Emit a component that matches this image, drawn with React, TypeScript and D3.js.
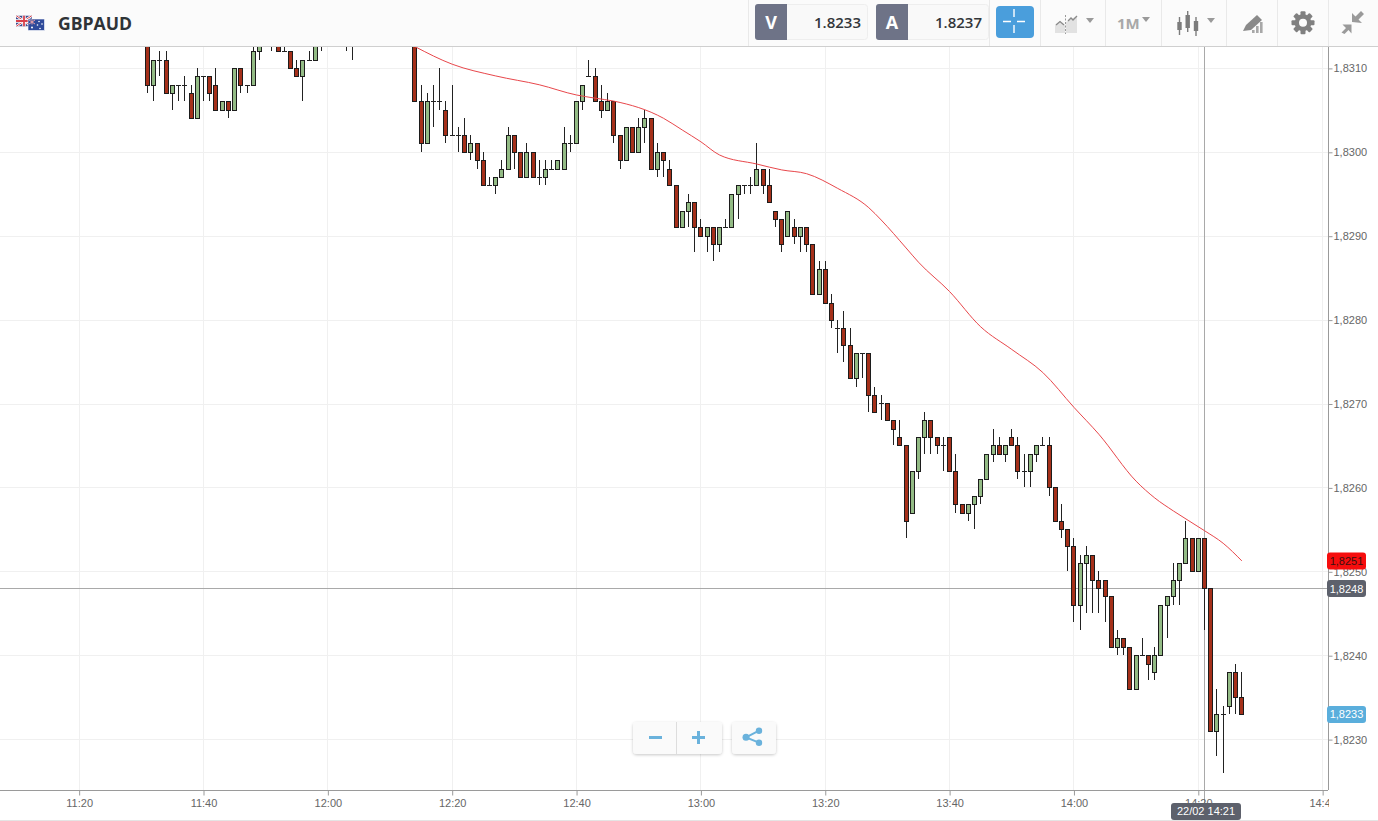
import { useEffect, useRef } from 'react';
import * as d3 from 'd3';

const SYMBOL = 'GBPAUD';
const BID = '1.8233';
const ASK = '1.8237';

// all prices are pips above/below 1.8300, one candle per minute from 11:31
const PRICE_BASE = 1.83;
const FIRST_CANDLE = '11:31';

const opens = [
  14, 8, 11, 11, 7, 8, 8, 7, 4, 9,
  9, 8, 5, 6, 5, 10, 8, 8, 12, 14,
  14, 14, 12, 12, 10, 9, 11, 11, 14, 14,
  14, 14, 14, 14, 14, 14, 14, 14, 14, 14,
  14, 14, 14, 14, 6, 1, 6, 6, 5, 2,
  2, 2, 0, 1, -1, -4, -4, -3, -2, 2,
  0, -3, 0, -3, -3, -2, -2, -2, 1, 1,
  6, 9, 9, 6, 5, 6, 2, -1, 3, 0,
  3, 4, -2, 0, -2, -4, -9, -7, -6, -9,
  -10, -9, -11, -9, -9, -5, -4, -4, -4, -2,
  -4, -7, -8, -10, -9, -10, -9, -11, -17, -14,
  -18, -21, -21, -23, -27, -24, -24, -29, -30, -30,
  -32, -34, -35, -43, -38, -34, -32, -34, -35, -34,
  -38, -42, -43, -42, -41, -39, -36, -35, -36, -34,
  -35, -38, -38, -36, -35, -35, -40, -44, -45, -47,
  -54, -49, -48, -51, -51, -53, -59, -58, -59, -64,
  -60, -60, -62, -60, -54, -53, -51, -49, -46, -50,
  -46, -52, -69, -67, -66, -62, -65,
];
const highs = [
  15, 11, 12, 12, 8, 8, 9, 8, 10, 9,
  9, 10, 6, 6, 10, 10, 8, 13, 14, 15,
  15, 14, 13, 12, 11, 11, 12, 15, 15, 15,
  15, 15, 15, 15, 15, 15, 15, 15, 15, 15,
  15, 15, 15, 15, 8, 7, 8, 10, 6, 8,
  3, 4, 2, 1, 0, -3, -3, -1, 3, 2,
  0, 1, 0, -1, -1, -1, -1, 3, 2, 6,
  8, 11, 10, 8, 7, 6, 2, 3, 3, 4,
  5, 4, 1, 0, -1, -4, -7, -5, -6, -8,
  -9, -9, -9, -8, -5, -4, -4, -3, 1, -2,
  -2, -7, -8, -7, -8, -9, -9, -11, -13, -13,
  -17, -20, -19, -21, -24, -24, -24, -28, -29, -30,
  -32, -32, -35, -38, -34, -31, -32, -34, -34, -34,
  -36, -42, -42, -41, -39, -36, -33, -34, -35, -33,
  -34, -36, -36, -35, -34, -34, -40, -42, -45, -46,
  -48, -47, -48, -50, -51, -53, -57, -58, -59, -60,
  -58, -60, -59, -54, -53, -49, -49, -44, -46, -46,
  -46, -52, -64, -66, -62, -61, -62,
];
const lows = [
  7, 6, 9, 7, 5, 6, 6, 4, 4, 6,
  6, 5, 5, 4, 5, 7, 7, 8, 11, 13,
  12, 12, 12, 10, 9, 6, 11, 11, 12, 13,
  13, 13, 12, 11, 13, 13, 13, 13, 13, 13,
  13, 13, 13, 6, 0, 1, 3, 5, 1, 2,
  0, 0, -1, -2, -4, -4, -5, -3, -2, -2,
  -3, -3, -3, -4, -4, -2, -2, -2, 0, 1,
  5, 9, 6, 4, 5, 1, -2, -1, 0, 0,
  1, -2, -3, -3, -4, -9, -9, -9, -12, -10,
  -12, -13, -12, -9, -9, -8, -5, -5, -4, -5,
  -6, -9, -12, -10, -11, -12, -12, -17, -17, -18,
  -21, -24, -25, -27, -28, -27, -31, -31, -32, -32,
  -35, -35, -46, -43, -39, -36, -36, -36, -38, -38,
  -43, -43, -44, -45, -42, -39, -37, -36, -37, -35,
  -39, -40, -40, -37, -35, -41, -44, -46, -50, -56,
  -57, -55, -55, -55, -56, -59, -60, -60, -64, -64,
  -60, -63, -63, -60, -58, -54, -54, -49, -50, -50,
  -57, -69, -72, -74, -67, -67, -67,
];
const closes = [
  8, 11, 11, 7, 8, 8, 8, 4, 9, 9,
  7, 5, 6, 5, 10, 8, 8, 12, 14, 14,
  14, 12, 12, 10, 9, 11, 11, 14, 14, 14,
  14, 14, 14, 14, 14, 14, 14, 14, 14, 14,
  14, 14, 14, 6, 1, 6, 6, 6, 2, 2,
  2, 0, 1, -1, -4, -4, -3, -2, 2, 0,
  -3, 0, -3, -3, -2, -2, -1, 1, 1, 6,
  8, 9, 6, 5, 6, 2, -1, 3, 0, 3,
  4, -2, 0, -1, -4, -9, -7, -6, -9, -10,
  -9, -11, -9, -9, -5, -4, -4, -4, -2, -4,
  -6, -8, -11, -7, -10, -9, -11, -17, -14, -18,
  -20, -21, -23, -27, -24, -24, -29, -31, -30, -32,
  -33, -35, -44, -38, -34, -32, -34, -35, -35, -38,
  -42, -43, -42, -41, -39, -36, -35, -36, -35, -35,
  -38, -38, -36, -35, -35, -40, -44, -45, -47, -54,
  -49, -48, -51, -52, -53, -59, -58, -59, -64, -60,
  -60, -61, -60, -54, -53, -51, -49, -46, -50, -46,
  -52, -69, -67, -67, -62, -65, -67,
];

const maCandles = [43, 49, 56, 63, 69, 72, 75, 83, 86, 89, 92, 98, 102, 106, 111, 116, 118, 122, 124, 129, 134, 139, 144, 149, 153, 159, 162, 165, 170, 173, 176];
const maValues = [12.6, 10.5, 9.1, 8.05, 6.83, 6.45, 6.1, 4.05, 2.66, 1.25, -0.32, -1.4, -2.1, -2.55, -4.3, -6.6, -8.07, -11.4, -13.1, -16.6, -20.8, -23.5, -26.25, -30.4, -33.6, -39.2, -41.2, -42.75, -45.1, -46.6, -48.7];

const xTickLabels = ['11:20', '11:40', '12:00', '12:20', '12:40', '13:00', '13:20', '13:40', '14:00', '14:20', '14:40'];
const yTickValues = [1.823, 1.824, 1.825, 1.826, 1.827, 1.828, 1.829, 1.83, 1.831];

const CROSS_PRICE = 1.8248;
const CROSS_TIME = '14:21';
const CROSS_LABEL = '22/02 14:21';

const FONT = '"Liberation Sans", Arial, sans-serif';
const UI_FONT = '"Open Sans", sans-serif';
const RED = '#a5301a';
const GREEN = '#93bb85';
const INK = '#1c1c1c';
const LABEL_SIZE = 11;

const priceText = (p: number) => p.toFixed(4).replace('.', ',');
const toPrice = (pips: number) => PRICE_BASE + pips / 10000;

function drawChart(svg: SVGGElement) {
  const root = d3.select(svg);
  root.selectAll('*').remove();

  const parse = d3.timeParse('%H:%M');
  const xTicks = xTickLabels.map((s) => parse(s) as Date);
  const x = d3.scaleTime().domain([xTicks[0], xTicks[xTicks.length - 1]]).range([79.15, 1322.65]);
  const y = d3.scaleLinear().domain([1.823, 1.831]).range([739.6, 68.4]);
  const first = parse(FIRST_CANDLE) as Date;
  const candleX = (i: number) => x(d3.timeMinute.offset(first, i));
  const sharp = (v: number) => Math.floor(v) + 0.5;

  const chartRight = 1328;
  const chartTop = 47;
  const chartBottom = 790;

  const defs = root.append('defs');
  defs.append('clipPath').attr('id', 'plot').append('rect')
    .attr('x', 0).attr('y', chartTop).attr('width', chartRight).attr('height', chartBottom - chartTop);
  defs.append('clipPath').attr('id', 'xaxis').append('rect')
    .attr('x', 0).attr('y', chartBottom).attr('width', chartRight + 1).attr('height', 31);

  // grid
  const grid = root.append('g').attr('stroke', '#f0f0f0').attr('shape-rendering', 'crispEdges');
  grid.selectAll('.h').data(yTickValues).join('line').attr('class', 'h')
    .attr('x1', 0).attr('x2', chartRight)
    .attr('y1', (d) => sharp(y(d))).attr('y2', (d) => sharp(y(d)));
  grid.selectAll('.v').data(xTicks).join('line').attr('class', 'v')
    .attr('x1', (d) => sharp(x(d))).attr('x2', (d) => sharp(x(d)))
    .attr('y1', chartTop).attr('y2', chartBottom);

  // crosshair stays behind the candles
  const crossY = sharp(y(CROSS_PRICE));
  const crossX = sharp(x(parse(CROSS_TIME) as Date));
  root.append('line').attr('x1', 0).attr('x2', chartRight).attr('y1', crossY).attr('y2', crossY)
    .attr('stroke', '#a9a9a9').attr('shape-rendering', 'crispEdges');
  root.append('line').attr('x1', crossX).attr('x2', crossX).attr('y1', chartTop).attr('y2', chartBottom + 13)
    .attr('stroke', '#a9a9a9').attr('shape-rendering', 'crispEdges');

  const plot = root.append('g').attr('clip-path', 'url(#plot)');

  const candles = plot.append('g').attr('shape-rendering', 'crispEdges');
  const rows = d3.range(opens.length);
  candles.selectAll('.wick').data(rows).join('line').attr('class', 'wick')
    .attr('x1', (i) => sharp(candleX(i))).attr('x2', (i) => sharp(candleX(i)))
    .attr('y1', (i) => Math.floor(y(toPrice(highs[i])))).attr('y2', (i) => Math.floor(y(toPrice(lows[i]))))
    .attr('stroke', '#222');
  candles.selectAll('.doji').data(rows.filter((i) => opens[i] === closes[i])).join('line').attr('class', 'doji')
    .attr('x1', (i) => sharp(candleX(i)) - 2.5).attr('x2', (i) => sharp(candleX(i)) + 2.5)
    .attr('y1', (i) => sharp(y(toPrice(opens[i])))).attr('y2', (i) => sharp(y(toPrice(opens[i]))))
    .attr('stroke', '#222');
  candles.selectAll('.body').data(rows.filter((i) => opens[i] !== closes[i])).join('rect').attr('class', 'body')
    .attr('x', (i) => sharp(candleX(i)) - 2)
    .attr('width', 4)
    .attr('y', (i) => sharp(y(toPrice(Math.max(opens[i], closes[i])))))
    .attr('height', (i) => Math.abs(sharp(y(toPrice(opens[i]))) - sharp(y(toPrice(closes[i])))))
    .attr('fill', (i) => (closes[i] < opens[i] ? RED : GREEN))
    .attr('stroke', INK);

  const line = d3.line<number>()
    .x((i) => candleX(maCandles[i]))
    .y((i) => y(toPrice(maValues[i])))
    .curve(d3.curveMonotoneX);
  plot.append('path').datum(d3.range(maCandles.length))
    .attr('fill', 'none').attr('stroke', '#e8474b').attr('stroke-width', 1).attr('d', line);

  // axes
  const xAxis = root.append('g').attr('clip-path', 'url(#xaxis)').append('g')
    .attr('transform', `translate(0,${chartBottom + 0.5})`)
    .call(d3.axisBottom(x).tickValues(xTicks).tickFormat(d3.timeFormat('%H:%M') as any).tickSize(5).tickSizeOuter(0).tickPadding(4));
  xAxis.select('.domain').attr('stroke', '#9a9a9a').attr('d', `M0,0H${chartRight}`);
  xAxis.selectAll('line').attr('stroke', '#9a9a9a');
  xAxis.selectAll('text').attr('fill', '#666').attr('font-size', LABEL_SIZE).attr('font-family', FONT);

  const yAxis = root.append('g').attr('transform', `translate(${chartRight + 0.5},0)`)
    .call(d3.axisRight(y).tickValues(yTickValues).tickFormat((v) => priceText(Number(v))).tickSize(4).tickSizeOuter(0).tickPadding(1));
  yAxis.select('.domain').attr('stroke', '#9a9a9a').attr('d', `M0,${chartTop}V${chartBottom}`);
  yAxis.selectAll('line').attr('stroke', '#9a9a9a');
  yAxis.selectAll('text').attr('fill', '#666').attr('font-size', LABEL_SIZE).attr('font-family', FONT);

  // price tags
  const tag = (price: number, fill: string, color: string) => {
    const cy = y(price);
    root.append('rect').attr('x', 1327).attr('y', cy - 8.5).attr('width', 39).attr('height', 17).attr('rx', 3).attr('fill', fill);
    root.append('text').attr('x', 1346.5).attr('y', cy + 4).attr('text-anchor', 'middle')
      .attr('fill', color).attr('font-size', LABEL_SIZE).attr('font-family', FONT).text(priceText(price));
  };
  tag(toPrice(maValues[maValues.length - 1]), '#f60d0d', '#3a1010');
  tag(CROSS_PRICE, '#5d616c', '#fff');
  tag(toPrice(closes[closes.length - 1]), '#5aaedc', '#fff');

  root.append('rect').attr('x', 1171).attr('y', 803).attr('width', 70).attr('height', 17).attr('rx', 3).attr('fill', '#5d616c');
  root.append('text').attr('x', 1206).attr('y', 815).attr('text-anchor', 'middle')
    .attr('fill', '#fff').attr('font-size', LABEL_SIZE).attr('font-family', FONT).text(CROSS_LABEL);
}

function Triangle({ x }: { x: number }) {
  return <path d={`M${x},18 h8 l-4,5 z`} fill="#9a9a9a" />;
}

function Gear({ cx, cy }: { cx: number; cy: number }) {
  return (
    <g fill="#808080">
      {d3.range(8).map((k) => (
        <rect key={k} x={cx - 2.5} y={cy - 11.5} width={5} height={5} rx={1} transform={`rotate(${k * 45} ${cx} ${cy})`} />
      ))}
      <circle cx={cx} cy={cy} r={6.2} fill="none" stroke="#808080" strokeWidth={4.4} />
    </g>
  );
}

function Flags() {
  return (
    <g>
      <defs>
        <clipPath id="uk"><rect x={16} y={15.5} width={16} height={11} /></clipPath>
      </defs>
      <g clipPath="url(#uk)">
        <rect x={16} y={15.5} width={16} height={11} fill="#3a4a8c" />
        <path d="M16,15.5 L32,26.5 M32,15.5 L16,26.5" stroke="#fff" strokeWidth={2.4} />
        <path d="M16,15.5 L32,26.5 M32,15.5 L16,26.5" stroke="#d8404a" strokeWidth={1} />
        <path d="M24,15.5 V26.5 M16,21 H32" stroke="#fff" strokeWidth={3.4} />
        <path d="M24,15.5 V26.5 M16,21 H32" stroke="#d8404a" strokeWidth={1.8} />
      </g>
      <rect x={28} y={19} width={16.5} height={11.5} fill="#2f4a9a" stroke="#fff" strokeWidth={0.6} />
      <path d="M29,20 L35,24 M35,20 L29,24 M32,19.5 V24.5" stroke="#e6a0a8" strokeWidth={1} />
      <g fill="#fff">
        <circle cx={32} cy={27.5} r={1} />
        <circle cx={39} cy={21.5} r={0.8} />
        <circle cx={42} cy={24} r={0.8} />
        <circle cx={37.5} cy={25} r={0.8} />
        <circle cx={40} cy={28.5} r={0.8} />
      </g>
    </g>
  );
}

function QuoteBox({ x, letter, value }: { x: number; letter: string; value: string }) {
  return (
    <g>
      <rect x={x + 0.5} y={4.5} width={112} height={35} rx={3} fill="#f9f9f9" stroke="#eee" />
      <path d={`M${x + 3},4 H${x + 32} V40 H${x + 3} a3,3 0 0 1 -3,-3 V7 a3,3 0 0 1 3,-3 z`} fill="#6e7387" />
      <text x={x + 16} y={29} textAnchor="middle" fontSize={18} fontWeight={700} fill="#fff" fontFamily={UI_FONT}>{letter}</text>
      <text x={x + 106} y={28} textAnchor="end" fontSize={15} fontWeight={600} fill="#33363a" fontFamily={UI_FONT}>{value}</text>
    </g>
  );
}

function Toolbar() {
  const seps = [748, 989, 1040, 1105, 1161, 1226, 1277, 1328];
  return (
    <g>
      <rect x={0} y={0} width={1378} height={46} fill="#fbfbfb" />
      <line x1={0} x2={1378} y1={46.5} y2={46.5} stroke="#cfcfcf" />
      {seps.map((s) => <line key={s} x1={s + 0.5} x2={s + 0.5} y1={0} y2={46} stroke="#e9e9e9" />)}
      <Flags />
      <text x={58} y={29.5} fontSize={17.6} fontWeight={700} fill="#2f3337" fontFamily={UI_FONT}>{SYMBOL}</text>

      <QuoteBox x={755} letter="V" value={BID} />
      <QuoteBox x={876} letter="A" value={ASK} />

      <rect x={996} y={6} width={38} height={32} rx={4} fill="#4a9edc" />
      <path d="M1003,21.5 H1011 M1017,21.5 H1025 M1014,9 V17 M1014,25 V33" stroke="#fff" strokeWidth={1.4} />

      {/* chart type */}
      <path d="M1055,33 V25 L1060,21 L1065,25 V33 Z M1066,33 V22 L1071,19 L1077,16 V33 Z" fill="#e2e2e2" />
      <path d="M1056,25 L1060,21.5 L1064,25 M1068,21 L1071,18 L1073,20 L1077,16" fill="none" stroke="#8a8a8a" strokeWidth={1.3} />
      <line x1={1065.5} x2={1065.5} y1={15} y2={34} stroke="#9a9a9a" strokeDasharray="2 1.5" />
      <Triangle x={1086} />

      <text x={1117} y={29} fontSize={15} fontWeight={700} fill="#a8a8a8" fontFamily={UI_FONT}>1M</text>
      <path d="M1142,17 h8 l-4,5 z" fill="#9a9a9a" />

      {/* candles icon */}
      <g fill="#7c7c7c">
        <rect x={1178.8} y={17} width={1.4} height={18} />
        <rect x={1177.3} y={22} width={4.4} height={8} />
        <rect x={1187} y={11} width={1.4} height={21} />
        <rect x={1185.5} y={15} width={4.4} height={13} />
        <rect x={1195.3} y={17} width={1.4} height={19} />
        <rect x={1193.8} y={21} width={4.4} height={10} />
      </g>
      <Triangle x={1207} />

      {/* drawing tools */}
      <path d="M1243,31 L1246,25 L1257,15 L1262,20 L1251,30 Z" fill="#8a8a8a" />
      <path d="M1252,33 h2.6 v-3 h-2.6 z M1256,33 h2.6 v-7 h-2.6 z M1260,33 h2.6 v-11 h-2.6 z" fill="#a8a8a8" />

      <Gear cx={1303} cy={22.7} />

      {/* compress */}
      <g fill="#9a9a9a">
        <path d="M1352,22 V13 L1355.5,16.5 L1361,11 L1364,14 L1358.5,19.5 L1362,23 Z" />
        <path d="M1352,24 H1343 L1346.5,27.5 L1342,32 L1345,33.5 L1349,29.5 L1352,33 Z" transform="translate(-0.5,0.5)" />
      </g>
    </g>
  );
}

function ZoomButtons() {
  const blue = '#6ab2dc';
  return (
    <g>
      <defs>
        <filter id="btn" x="-20%" y="-20%" width="140%" height="150%">
          <feDropShadow dx={0} dy={1} stdDeviation={1.5} floodColor="#000" floodOpacity={0.22} />
        </filter>
      </defs>
      <rect x={633} y={722} width={89} height={32} rx={4} fill="#fafafa" filter="url(#btn)" />
      <line x1={676.5} x2={676.5} y1={722} y2={754} stroke="#ddd" />
      <rect x={649} y={736} width={13} height={3} fill={blue} />
      <rect x={692} y={736} width={13} height={3} fill={blue} />
      <rect x={697} y={731} width={3} height={13} fill={blue} />
      <rect x={732} y={722} width={44} height={32} rx={4} fill="#fafafa" filter="url(#btn)" />
      <path d="M759,730.7 L746,737.3 L759,742.7" fill="none" stroke={blue} strokeWidth={2} />
      <circle cx={746} cy={737.3} r={3.5} fill={blue} />
      <circle cx={759} cy={730.7} r={3.2} fill={blue} />
      <circle cx={759} cy={742.7} r={3.2} fill={blue} />
    </g>
  );
}

export default function App() {
  const chartRef = useRef<SVGGElement>(null);

  useEffect(() => {
    if (chartRef.current) drawChart(chartRef.current);
  }, []);

  return (
    <svg width={1378} height={821} style={{ position: 'absolute', left: 0, top: 0, display: 'block', background: '#fff' }}>
      <g ref={chartRef} />
      <ZoomButtons />
      <Toolbar />
      <line x1={0} x2={1378} y1={820.5} y2={820.5} stroke="#e4e4e4" />
    </svg>
  );
}
